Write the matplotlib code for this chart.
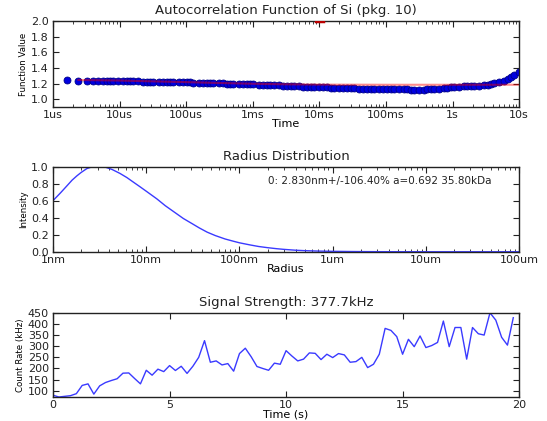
import numpy as np
import matplotlib
matplotlib.use("Agg")
import matplotlib.pyplot as plt

# autocorrelation (time in microseconds)
acf_time_us = [1.6, 2.4, 3.2, 4.0, 4.8, 5.6, 6.4, 7.2, 8.0, 9.6, 11.2, 12.8, 14.4, 16,
               19.2, 22.4, 25.6, 28.8, 32, 38.4, 44.8, 51.2, 57.6, 64, 76.8, 89.6, 102,
               115, 128, 154, 179, 205, 230, 256, 307, 358, 410, 461, 512, 614, 717, 819,
               922, 1024, 1229, 1434, 1638, 1843, 2048, 2458, 2867, 3277, 3686, 4096,
               4915, 5734, 6554, 7373, 8192, 9830, 11469, 13107, 14746, 16384, 19661,
               22938, 26214, 29491, 32768, 39322, 45875, 52429, 58982, 65536, 78643,
               91750, 104858, 117965, 131072, 157286, 183501, 209715, 235930, 262144,
               314573, 367002, 419430, 471859, 524288, 629146, 734003, 838861, 943718,
               1048576, 1258291, 1468006, 1677722, 1887437, 2097152, 2516582, 2936013,
               3355443, 3774874, 4194304, 5033165, 5872026, 6710886, 7549747, 8388608,
               10066330]
acf_value = [1.240, 1.236, 1.235, 1.234, 1.234, 1.233, 1.232, 1.233, 1.231, 1.230, 1.229,
             1.229, 1.228, 1.227, 1.226, 1.224, 1.225, 1.222, 1.223, 1.221, 1.222, 1.220,
             1.219, 1.218, 1.217, 1.216, 1.214, 1.214, 1.212, 1.211, 1.209, 1.208, 1.207,
             1.205, 1.203, 1.201, 1.200, 1.198, 1.196, 1.194, 1.193, 1.190, 1.189, 1.188,
             1.185, 1.183, 1.181, 1.180, 1.177, 1.175, 1.172, 1.170, 1.168, 1.166, 1.163,
             1.161, 1.160, 1.158, 1.157, 1.155, 1.152, 1.151, 1.148, 1.147, 1.145, 1.142,
             1.141, 1.139, 1.137, 1.135, 1.134, 1.132, 1.131, 1.130, 1.129, 1.128, 1.127,
             1.127, 1.126, 1.125, 1.125, 1.124, 1.123, 1.123, 1.122, 1.122, 1.124,
             1.125, 1.128, 1.133, 1.140, 1.147, 1.153, 1.158, 1.160, 1.162, 1.164, 1.167,
             1.170, 1.173, 1.178, 1.184, 1.190, 1.203, 1.218, 1.235, 1.255, 1.278, 1.305,
             1.350]
fit_time_us = [2.4, 10, 30, 100, 300, 1000, 3000, 10000, 100000, 1000000, 10000000]
fit_value = [1.245, 1.238, 1.228, 1.218, 1.207, 1.197, 1.190, 1.186, 1.184, 1.184, 1.184]
fit_mark_time_us = [8800, 11500]
fit_mark_value = [2.0, 2.0]
acf_ticks = [1e-6, 1e-5, 1e-4, 1e-3, 1e-2, 1e-1, 1, 10]
acf_tick_labels = ["1us", "10us", "100us", "1ms", "10ms", "100ms", "1s", "10s"]

# radius distribution (radius in nm)
radius_nm = [1.0, 1.2, 1.4, 1.6, 1.8, 2.0, 2.3, 2.6, 2.9, 3.3, 3.7, 4.3, 5.2, 6.2, 7.2,
             8.5, 10, 13, 16, 20, 25, 31, 37, 45, 55, 70, 85, 100, 130, 160, 200, 250,
             300, 400, 500, 700, 1000, 1500, 2000, 3000, 5000, 10000, 100000]
intensity = [0.60, 0.69, 0.77, 0.84, 0.89, 0.93, 0.975, 0.995, 1.0, 0.998, 0.99, 0.965,
             0.92, 0.87, 0.82, 0.765, 0.71, 0.62, 0.54, 0.465, 0.39, 0.33, 0.28, 0.23,
             0.19, 0.15, 0.125, 0.105, 0.08, 0.062, 0.048, 0.036, 0.028, 0.018, 0.013,
             0.008, 0.005, 0.003, 0.002, 0.001, 0.0005, 0.0, 0.0]
radius_ticks = [1e-9, 1e-8, 1e-7, 1e-6, 1e-5, 1e-4]
radius_tick_labels = ["1nm", "10nm", "100nm", "1um", "10um", "100um"]
fit_text = "0: 2.830nm+/-106.40% a=0.692 35.80kDa"

# count rate, sampled every 0.25 s
sample_interval = 0.25
count_rate = [80, 72, 75, 78, 87, 124, 131, 85, 122, 137, 146, 154, 179, 180, 155, 131,
              192, 170, 197, 186, 213, 191, 210, 178, 210, 250, 325, 228, 234, 216, 222,
              188, 267, 291, 253, 209, 200, 192, 224, 219, 280, 256, 234, 242, 270, 268,
              240, 264, 249, 267, 261, 228, 231, 250, 204, 219, 264, 380, 371, 343, 264,
              331, 298, 346, 294, 303, 317, 413, 298, 384, 384, 242, 384, 356, 350, 450,
              417, 340, 305, 428]

plt.rcParams.update({
    "xtick.direction": "in", "ytick.direction": "in",
    "xtick.top": True, "ytick.right": True,
    "xtick.major.size": 4, "ytick.major.size": 4,
    "xtick.minor.size": 2, "ytick.minor.size": 2,
    "xtick.major.pad": 2.5, "ytick.major.pad": 3,
    "xtick.labelsize": 8, "ytick.labelsize": 8,
    "axes.linewidth": 1.0, "axes.edgecolor": "#222222",
    "text.color": "#222222", "xtick.color": "#222222", "ytick.color": "#222222",
})

fig = plt.figure(figsize=(5.47, 4.21), dpi=100, facecolor="white")
left, width = 0.097, 0.852
ax1 = fig.add_axes([left, 0.746, width, 0.204])
ax2 = fig.add_axes([left, 0.402, width, 0.2025])
ax3 = fig.add_axes([left, 0.057, width, 0.2])

# Autocorrelation
t = np.array(acf_time_us) * 1e-6
ax1.plot(t, acf_value, "o", color="#0000e0", mec="#00008a", mew=0.6, ms=5, zorder=2)
ax1.plot(np.array(fit_time_us) * 1e-6, fit_value, color="red", alpha=0.45, lw=1.5, zorder=3)
ax1.plot(np.array(fit_mark_time_us) * 1e-6, fit_mark_value, color="#bb0000", lw=2.5, zorder=4)
ax1.set_xscale("log")
ax1.set_xlim(1e-6, 10)
ax1.set_ylim(0.9, 2.0)
ax1.set_yticks([1.0, 1.2, 1.4, 1.6, 1.8, 2.0])
ax1.set_xticks(acf_ticks, acf_tick_labels)
ax1.set_title("Autocorrelation Function of Si (pkg. 10)", fontsize=9.5, pad=5)
ax1.set_xlabel("Time", fontsize=8, labelpad=-1)
ax1.set_ylabel("Function Value", fontsize=6.2, labelpad=2)

# Radius distribution
ax2.plot(np.array(radius_nm) * 1e-9, intensity, color="#3a3aff", lw=1.0)
ax2.set_xscale("log")
ax2.set_xlim(1e-9, 1e-4)
ax2.set_ylim(0.0, 1.0)
ax2.set_yticks([0.0, 0.2, 0.4, 0.6, 0.8, 1.0])
ax2.set_xticks(radius_ticks, radius_tick_labels)
ax2.text(0.94, 0.83, fit_text, transform=ax2.transAxes, ha="right", va="center", fontsize=7.5)
ax2.set_title("Radius Distribution", fontsize=9.5, pad=5)
ax2.set_xlabel("Radius", fontsize=8, labelpad=-1)
ax2.set_ylabel("Intensity", fontsize=6.2, labelpad=2)

# Signal strength
time_s = np.arange(len(count_rate)) * sample_interval
ax3.plot(time_s, count_rate, color="#3a3aff", lw=1.0)
ax3.set_xlim(0, 20)
ax3.set_ylim(min(count_rate), max(count_rate))
ax3.set_xticks([0, 5, 10, 15, 20])
ax3.set_yticks([100, 150, 200, 250, 300, 350, 400, 450])
ax3.set_title("Signal Strength: 377.7kHz", fontsize=9.5, pad=5)
ax3.set_xlabel("Time (s)", fontsize=8, labelpad=-1)
ax3.set_ylabel("Count Rate (kHz)", fontsize=6.2, labelpad=2)

fig.savefig("out.png", dpi=100, facecolor="white")
